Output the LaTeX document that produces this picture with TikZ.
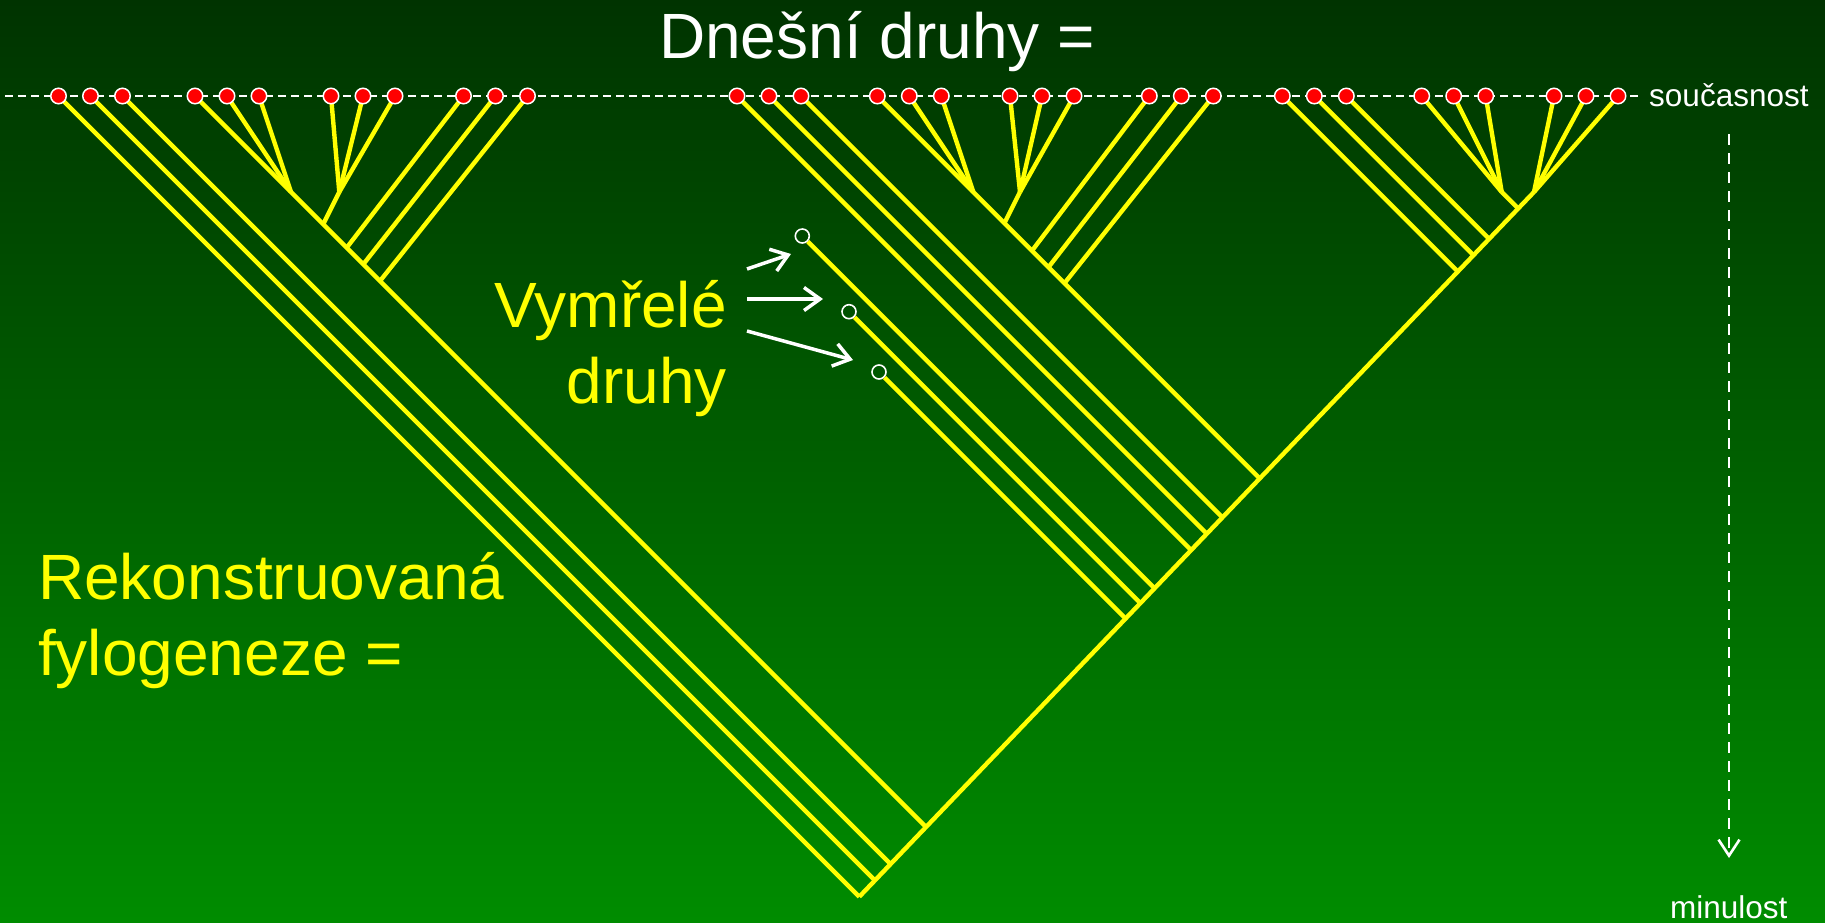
\documentclass[tikz,border=0pt]{standalone}
\usepackage{fontspec}
\setmainfont{Liberation Sans}
\usetikzlibrary{arrows.meta}

\definecolor{bgtop}{HTML}{003300}
\definecolor{bgbottom}{HTML}{008C00}
\definecolor{limbyellow}{HTML}{FFFF00}
\definecolor{leafred}{HTML}{FF0000}

\tikzset{
  limb/.style={draw=limbyellow, line width=4.4pt},
  leaf/.style={circle, fill=leafred, draw=white, line width=1.5pt, minimum size=15.5pt, inner sep=0pt},
  fossil/.style={circle, draw=white, line width=1.6pt, minimum size=14pt, inner sep=0pt},
  hint/.style={draw=white, line width=3.5pt, -{Straight Barb[length=16pt,width=23pt]}},
  timeline/.style={draw=white, line width=2pt, dash pattern=on 8pt off 5pt},
  bigtext/.style={font=\fontsize{64}{76}\selectfont, inner sep=0pt},
  smalltext/.style={text=white, font=\fontsize{31.5}{38}\selectfont, inner sep=0pt}
}

\begin{document}
\begin{tikzpicture}[x=1pt, y=-1pt]
% Background
\shade[top color=bgtop, bottom color=bgbottom] (0,0) rectangle (1825,922);
\useasboundingbox (0,0) rectangle (1825,922);

% Time axis
\coordinate (axisL) at (5,96);
\coordinate (axisR) at (1640,96);
\draw[timeline] (axisL) -- (axisR);
\node[smalltext, anchor=base west] (now) at (1649,106) {současnost};
\coordinate (pastTop) at (1729,134);
\coordinate (pastEnd) at (1729,858);
\draw[timeline, line width=2.6pt, dash pattern=on 11pt off 8pt,
  -{Straight Barb[length=16pt,width=21pt]}] (pastTop) -- (pastEnd);
\node[smalltext, anchor=base west] (past) at (1670,918) {minulost};

% Present-day species positions (triples)
\foreach \s [count=\t] in {58.5,195,331,463.5,737,877.3,1010,1149.3,1282.3,1421.7,1554}{
  \foreach \k in {0,1,2}{
    \pgfmathtruncatemacro{\n}{3*(\t-1)+\k+1}
    \pgfmathsetmacro{\x}{\s+32*\k}
    \coordinate (d\n) at (\x,96);
  }
}

% Junctions on the main stem
\coordinate (root) at (859.3,896.7);
\coordinate (apex) at (1534,192);
\coordinate (m2) at (874.9,880.4);
\coordinate (m3) at (890.6,864.1);
\coordinate (mA) at (926,827);
\coordinate (mE3) at (1125.6,618.6);
\coordinate (mE2) at (1140.4,603.1);
\coordinate (mE1) at (1154.6,588.3);
\coordinate (m13) at (1191.1,550.1);
\coordinate (m14) at (1206.8,533.8);
\coordinate (m15) at (1222.4,517.4);
\coordinate (mB) at (1259.7,478.4);
\coordinate (m25) at (1457.8,271.5);
\coordinate (m26) at (1473.5,255.2);
\coordinate (m27) at (1489.1,238.8);
\coordinate (mC) at (1518.2,208.5);

% Junctions inside the clades
\coordinate (pA1) at (291,192);
\coordinate (pA2) at (339.3,192);
\coordinate (sA) at (323.2,224.2);
\coordinate (cA10) at (346.7,247.7);
\coordinate (cA11) at (363.3,264.3);
\coordinate (cA12) at (380,281);
\coordinate (pB1) at (973.3,192);
\coordinate (pB2) at (1020,192);
\coordinate (sB) at (1004.4,223.1);
\coordinate (cB22) at (1032,250.7);
\coordinate (cB23) at (1048.5,267.2);
\coordinate (cB24) at (1064.5,283.2);
\coordinate (pC) at (1501.7,192);

% Main stem and long branches
\draw[limb] (root) -- (apex);
\foreach \a/\b in {d1/root, d2/m2, d3/m3, d4/mA, d13/m13, d14/m14, d15/m15,
  d16/mB, d25/m25, d26/m26, d27/m27, pC/mC}
  \draw[limb] (\a) -- (\b);

% Short branches of the clades
\foreach \a/\b in {d5/pA1, d6/pA1, d7/pA2, d8/pA2, d9/pA2, pA2/sA,
  d10/cA10, d11/cA11, d12/cA12,
  d17/pB1, d18/pB1, d19/pB2, d20/pB2, d21/pB2, pB2/sB,
  d22/cB22, d23/cB23, d24/cB24,
  d28/pC, d29/pC, d30/pC, d31/apex, d32/apex, d33/apex}
  \draw[limb] (\a) -- (\b);

% Species of today
\foreach \n in {1,...,33}
  \node[leaf] (leaf\n) at (d\n) {};

% Extinct species
\node[fossil] (f1) at (802.3,236) {};
\node[fossil] (f2) at (849,311.7) {};
\node[fossil] (f3) at (879,372) {};
\draw[limb] (f1) -- (mE1);
\draw[limb] (f2) -- (mE2);
\draw[limb] (f3) -- (mE3);

% Labels
\node[bigtext, text=white, anchor=base] (title) at (877,58) {Dnešní druhy =};
\node[bigtext, text=limbyellow, anchor=base east] (gone1) at (727,327) {Vymřelé};
\node[bigtext, text=limbyellow, anchor=base east] (gone2) at (727,403) {druhy};
\node[bigtext, text=limbyellow, anchor=base west] (recon1) at (38,599) {Rekonstruovaná};
\node[bigtext, text=limbyellow, anchor=base west] (recon2) at (38,675) {fylogeneze =};

% Arrows to the extinct species
\coordinate (h1s) at (747,269);
\coordinate (h1e) at (791,254);
\coordinate (h2s) at (747,299);
\coordinate (h2e) at (823,299);
\coordinate (h3s) at (747,331);
\coordinate (h3e) at (853,360);
\draw[hint] (h1s) -- (h1e);
\draw[hint] (h2s) -- (h2e);
\draw[hint] (h3s) -- (h3e);
\end{tikzpicture}
\end{document}
